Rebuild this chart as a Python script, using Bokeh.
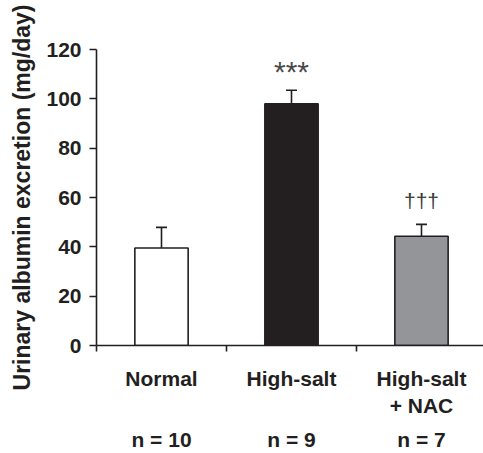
from bokeh.plotting import figure
from bokeh.models import Range1d, FixedTicker, LinearAxis, ColumnDataSource, Whisker, TeeHead
from bokeh.core.properties import value
from bokeh.embed import file_html
from bokeh.resources import INLINE

groups = ["Normal", "High-salt", "High-salt\n+ NAC"]
n_labels = ["n = 10", "n = 9", "n = 7"]
means = [39.5, 98.0, 44.3]
errors = [8.4, 5.5, 4.8]
bar_colors = ["#ffffff", "#231f20", "#939598"]
stars = ["", "***", ""]
daggers = ["", "", "\u2020\u2020\u2020"]
y_ticks = [0, 20, 40, 60, 80, 100, 120]

DARK = "#231f20"
FONT = "Liberation Sans"

idx = list(range(len(groups)))
centers = [i + 0.5 for i in idx]
upper = [m + e for m, e in zip(means, errors)]

src = ColumnDataSource(dict(x=centers, top=means, upper=upper, color=bar_colors,
                            stars=stars, daggers=daggers))

p = figure(width=483, height=453, output_backend="svg", toolbar_location=None,
           x_range=Range1d(0, 2.977), y_range=Range1d(0, 120),
           min_border_left=96, min_border_top=49, min_border_bottom=106, min_border_right=0,
           x_axis_location=None)
p.grid.visible = False
p.outline_line_color = None

p.vbar(x="x", top="top", width=0.41, bottom=0, source=src, fill_color="color",
       line_color=DARK, line_width=1.6)

w = Whisker(base="x", lower="top", upper="upper", source=src, dimension="height",
            line_color=DARK, line_width=1.6,
            lower_head=None, upper_head=TeeHead(size=11, line_color=DARK, line_width=1.6))
p.add_layout(w)

p.text(x="x", y="upper", text="stars", source=src, text_align="center", text_baseline="alphabetic",
       y_offset=-19, text_font=value(FONT), text_font_size="30px", text_color="#4a4a4a")
p.text(x="x", y="upper", text="daggers", source=src, text_align="center", text_baseline="alphabetic",
       y_offset=-24, text_font=value(FONT), text_font_size="21px", text_color="#3a3a3a")

# y axis
ya = p.yaxis[0]
ya.ticker = FixedTicker(ticks=y_ticks)
ya.axis_label = "Urinary albumin excretion (mg/day)"
ya.axis_label_text_font = FONT
ya.axis_label_text_font_style = "bold"
ya.axis_label_text_font_size = "23px"
ya.axis_label_text_color = DARK
ya.axis_label_standoff = 8
ya.major_label_text_font = FONT
ya.major_label_text_font_style = "bold"
ya.major_label_text_font_size = "21px"
ya.major_label_text_color = DARK
ya.major_label_standoff = 8
ya.major_tick_out = 7
ya.major_tick_in = 0
ya.minor_tick_line_color = None
ya.axis_line_width = 1.6
ya.axis_line_color = DARK
ya.major_tick_line_width = 1.6
ya.major_tick_line_color = DARK

# x axis: labels at centers, tick marks at group boundaries
xa = LinearAxis(ticker=FixedTicker(ticks=centers, minor_ticks=idx),
                major_label_overrides={c: g for c, g in zip(centers, groups)})
xa.major_tick_out = 0
xa.major_tick_in = 0
xa.minor_tick_out = 6
xa.minor_tick_in = 0
xa.minor_tick_line_width = 1.6
xa.minor_tick_line_color = DARK
xa.axis_line_width = 1.6
xa.axis_line_color = DARK
xa.major_label_standoff = 15
xa.major_label_text_font = FONT
xa.major_label_text_font_style = "bold"
xa.major_label_text_font_size = "21px"
xa.major_label_text_color = DARK
p.add_layout(xa, "below")

na = LinearAxis(ticker=FixedTicker(ticks=centers, minor_ticks=[]),
                major_label_overrides={c: t for c, t in zip(centers, n_labels)})
na.axis_line_color = None
na.major_tick_line_color = None
na.minor_tick_line_color = None
na.major_label_standoff = 1
na.major_label_text_font = FONT
na.major_label_text_font_style = "bold"
na.major_label_text_font_size = "21px"
na.major_label_text_color = DARK
p.add_layout(na, "below")

open("out.html", "w").write(file_html(p, INLINE))
